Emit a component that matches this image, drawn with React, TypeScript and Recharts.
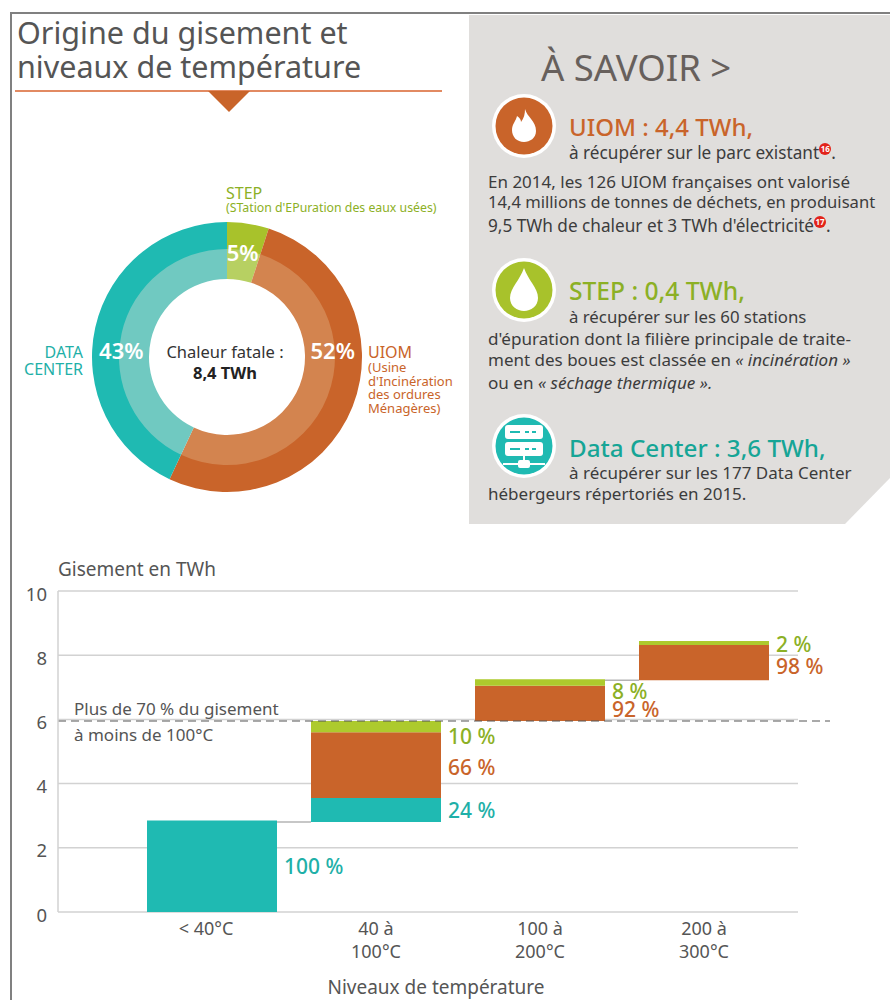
import React from "react";
import {
  Bar,
  BarChart,
  CartesianGrid,
  Cell,
  Label,
  LabelList,
  Pie,
  PieChart,
  ReferenceLine,
  XAxis,
  YAxis,
} from "recharts";

const TEAL = "#1fbab2";
const ORANGE = "#c9642a";
const GREEN = "#adca2d";
const TEAL_TEXT = "#1fb0a8";
const GREEN_TEXT = "#8cb025";
const GREY = "#555555";
const BODY = "#3c3c3c";
const FONT = "'Noto Sans', 'Open Sans', sans-serif";

// donut
const sourceNames = ["STEP", "UIOM", "DATA CENTER"];
const sourceShares = [5, 52, 43];
const sourceLabels = ["5%", "52%", "43%"];
const outerColors = ["#a8c22b", ORANGE, TEAL];
const innerColors = ["#b7d062", "#d3844f", "#70c9c1"];
const labelAngles = [8.5, 86, 274];

// stacked bars, in TWh
const temperatureLevels = ["< 40°C", "40 à\n100°C", "100 à\n200°C", "200 à\n300°C"];
const baseOffset = [0, 2.8, 5.95, 7.22];
const dataCenterTwh = [2.85, 0.75, 0, 0];
const uiomTwh = [0, 2.05, 1.1, 1.1];
const stepTwh = [0, 0.35, 0.2, 0.12];
const dataCenterPct = ["100 %", "24 %", "", ""];
const uiomPct = ["", "66 %", "92 %", "98 %"];
const stepPct = ["", "10 %", "8 %", "2 %"];
const uiomLabelNudge = [0, 2, 6, 3];
const stepLabelNudge = [0, 9, 9, 1];
const yTicks = [0, 2, 4, 6, 8, 10];
const connectedBars = [1, 3];

const barData = temperatureLevels.map((level, i) => ({
  level,
  base: baseOffset[i],
  dataCenter: dataCenterTwh[i],
  uiom: uiomTwh[i],
  step: stepTwh[i],
  dataCenterPct: dataCenterPct[i],
  uiomPct: uiomPct[i],
  stepPct: stepPct[i],
}));

const donutData = sourceNames.map((name, i) => ({ name, value: sourceShares[i] }));

function Txt({ x, y, size = 17, color = "#444", weight = 400, right, center, children }: any) {
  const lh = Math.round(size * 1.1);
  const style: React.CSSProperties = {
    position: "absolute",
    top: y - lh / 2,
    lineHeight: `${lh}px`,
    fontSize: size,
    color,
    fontWeight: weight,
    fontFamily: FONT,
    whiteSpace: "nowrap",
  };
  if (right !== undefined) style.right = 890 - right;
  else if (center !== undefined) {
    style.left = center;
    style.transform = "translateX(-50%)";
  } else style.left = x;
  return <div style={style}>{children}</div>;
}

function Note({ n }: { n: string }) {
  return (
    <span
      style={{
        display: "inline-block",
        width: 12,
        height: 12,
        borderRadius: 6,
        background: "#e2231a",
        color: "#fff",
        fontSize: 8,
        lineHeight: "12px",
        textAlign: "center",
        verticalAlign: 7,
        fontWeight: 700,
      }}
    >
      {n}
    </span>
  );
}

function Icon({ cy, fill, children }: any) {
  return (
    <svg width={70} height={70} viewBox="-35 -35 70 70" style={{ position: "absolute", left: 489, top: cy - 35 }}>
      <circle r={32} fill="#fff" />
      <circle r={28.5} fill={fill} />
      {children}
    </svg>
  );
}

function DonutLabel({ cx, cy, index }: any) {
  const a = (labelAngles[index] * Math.PI) / 180;
  return (
    <text
      x={cx + 106 * Math.sin(a)}
      y={cy - 106 * Math.cos(a)}
      fill="#fff"
      fontSize={22}
      fontWeight={600}
      fontFamily={FONT}
      textAnchor="middle"
      dominantBaseline="central"
    >
      {sourceLabels[index]}
    </text>
  );
}

function LevelTick({ x, y, payload }: any) {
  const lines = String(payload.value).split("\n");
  return (
    <text x={x} y={y} fill={GREY} fontSize={18} fontFamily={FONT} textAnchor="middle">
      {lines.map((line, i) => (
        <tspan key={line} x={lines.length === 1 ? x - 6 : x} y={y + 15 + i * 23}>
          {line}
        </tspan>
      ))}
    </text>
  );
}

// the invisible base segment draws the thin step line back to the previous bar
function BaseWithConnector({ x, y, index }: any) {
  if (!connectedBars.includes(index)) return null;
  return <line x1={x - 34} x2={x} y1={y} y2={y} stroke="#b4b4b4" strokeWidth={1.5} />;
}

// zero-height segments get no label entry, so the nudge is looked up by text
const pctLabel = (color: string, labels?: string[], nudge?: number[]) => (props: any) => {
  const { x, y, width, height, value } = props;
  if (!value) return null;
  const dy = labels && nudge ? nudge[labels.indexOf(value)] : 0;
  return (
    <text
      x={x + width + 7}
      y={y + height / 2 + dy}
      fill={color}
      fontSize={21}
      fontWeight={500}
      fontFamily={FONT}
      dominantBaseline="central"
    >
      {value}
    </text>
  );
};

export default function App() {
  return (
    <div style={{ position: "absolute", left: 0, top: 0, width: 890, height: 1000, background: "#fff", overflow: "hidden" }}>
      <div style={{ position: "absolute", left: 10, top: 12, width: 890, height: 1000, borderLeft: "2px solid #808080", borderTop: "2px solid #808080" }} />

      <Txt x={17} y={32} size={30.5} color={GREY}>Origine du gisement et</Txt>
      <Txt x={17} y={66} size={30.5} color={GREY}>niveaux de température</Txt>
      <div style={{ position: "absolute", left: 15, top: 90, width: 427, height: 2, background: "#e28a62" }} />
      <svg width={50} height={24} style={{ position: "absolute", left: 205, top: 91 }}>
        <polygon points="3,0 45,0 24,21" fill={ORANGE} />
      </svg>

      <div style={{ position: "absolute", left: 77, top: 207 }}>
        <PieChart width={300} height={300} margin={{ top: 0, right: 0, bottom: 0, left: 0 }}>
          <Pie data={donutData} dataKey="value" cx={150} cy={150} innerRadius={107} outerRadius={135} startAngle={90} endAngle={-270} stroke="none" isAnimationActive={false} label={false} labelLine={false}>
            {donutData.map((d, i) => <Cell key={d.name} fill={outerColors[i]} />)}
          </Pie>
          <Pie data={donutData} dataKey="value" cx={150} cy={150} innerRadius={78} outerRadius={108} startAngle={90} endAngle={-270} stroke="none" isAnimationActive={false} label={DonutLabel} labelLine={false}>
            {donutData.map((d, i) => <Cell key={d.name} fill={innerColors[i]} />)}
          </Pie>
        </PieChart>
      </div>

      <Txt x={226} y={193} size={16} color={GREEN_TEXT}>STEP</Txt>
      <Txt x={226} y={208} size={12.3} color={GREEN_TEXT}>(STation d'EPuration des eaux usées)</Txt>
      <Txt right={83} y={352} size={16} color={TEAL_TEXT}>DATA</Txt>
      <Txt right={83} y={369} size={16} color={TEAL_TEXT}>CENTER</Txt>
      <Txt x={368} y={352} size={16} color={ORANGE}>UIOM</Txt>
      <Txt x={368} y={367} size={13} color={ORANGE}>(Usine</Txt>
      <Txt x={368} y={381} size={13} color={ORANGE}>d'Incinération</Txt>
      <Txt x={368} y={394} size={13} color={ORANGE}>des ordures</Txt>
      <Txt x={368} y={408} size={13} color={ORANGE}>Ménagères)</Txt>
      <Txt center={225} y={352} size={16.5} color="#333">Chaleur fatale :</Txt>
      <Txt center={225} y={373} size={16.5} color="#222" weight={700}>8,4 TWh</Txt>

      <svg width={421} height={510} style={{ position: "absolute", left: 469, top: 15 }}>
        <polygon points="0,0 421,0 421,463 376,509 0,509" fill="#e0dedc" />
      </svg>
      <Txt x={541} y={67} size={36.5} color="#67605c">À SAVOIR &gt;</Txt>

      <Icon cy={126} fill={ORANGE}>
        <path d="M1 -17 C3 -9 12 -5 12 5 C12 12 6 16 0 16 C-7 16 -12 11 -12 4 C-12 -2 -8 -5 -7 -10 C-4 -8 -3 -6 -3 -4 C0 -8 1 -12 1 -17 Z" fill="#fff" />
      </Icon>
      <Txt x={569} y={127} size={24} color={ORANGE} weight={500}>UIOM : 4,4 TWh,</Txt>
      <Txt x={569} y={152} size={17.2} color={BODY}>à récupérer sur le parc existant<Note n="16" />.</Txt>
      <Txt x={488} y={181} size={17} color={BODY}>En 2014, les 126 UIOM françaises ont valorisé</Txt>
      <Txt x={488} y={202} size={16.6} color={BODY}>14,4 millions de tonnes de déchets, en produisant</Txt>
      <Txt x={488} y={225} size={17.2} color={BODY}>9,5 TWh de chaleur et 3 TWh d'électricité<Note n="17" />.</Txt>

      <Icon cy={290} fill="#a8c22b">
        <path d="M0 -22 C4 -10 14 -2 14 8 C14 16 7 21 0 21 C-7 21 -14 16 -14 8 C-14 -2 -4 -10 0 -22 Z" fill="#fff" />
      </Icon>
      <Txt x={569} y={290} size={24.6} color={GREEN_TEXT} weight={500}>STEP : 0,4 TWh,</Txt>
      <Txt x={569} y={317} size={16.8} color={BODY}>à récupérer sur les 60 stations</Txt>
      <Txt x={488} y={338} size={17.1} color={BODY}>d'épuration dont la filière principale de traite-</Txt>
      <Txt x={488} y={359} size={17} color={BODY}>ment des boues est classée en <i>« incinération »</i></Txt>
      <Txt x={488} y={382} size={17.1} color={BODY}>ou en <i>« séchage thermique ».</i></Txt>

      <Icon cy={446} fill={TEAL}>
        <rect x={-19} y={-21} width={38} height={14} rx={3} fill="#fff" />
        <rect x={-19} y={-4} width={38} height={14} rx={3} fill="#fff" />
        <rect x={-6} y={14} width={12} height={8} rx={2} fill="#fff" />
        <rect x={-21} y={17} width={42} height={2} fill="#fff" />
        <rect x={-1} y={10} width={2} height={5} fill="#fff" />
        <path d="M-14 -14 h10 M1 -14 h4 M8 -14 h4 M-14 3 h10 M1 3 h4 M8 3 h4" stroke={TEAL} strokeWidth={2} />
      </Icon>
      <Txt x={569} y={447} size={24.2} color="#16a596" weight={500}>Data Center : 3,6 TWh,</Txt>
      <Txt x={569} y={472} size={17} color={BODY}>à récupérer sur les 177 Data Center</Txt>
      <Txt x={488} y={493} size={17} color={BODY}>hébergeurs répertoriés en 2015.</Txt>

      <Txt x={58} y={569} size={19} color={GREY}>Gisement en TWh</Txt>

      <div style={{ position: "absolute", left: 0, top: 560 }}>
        <BarChart width={890} height={440} data={barData} margin={{ top: 31, right: 60, bottom: 0, left: 18 }} barSize={130}>
          <CartesianGrid horizontal vertical={false} width={740} stroke="#d2d2d2" strokeWidth={1.5} />
          <XAxis
            dataKey="level"
            height={88}
            axisLine={false}
            tickLine={false}
            interval={0}
            tick={LevelTick}
            padding={{ left: 72, right: 44 }}
          >
            <Label value="Niveaux de température" position="insideBottom" offset={0} dx={-8} dy={-6} fill={GREY} fontSize={19} fontFamily={FONT} />
          </XAxis>
          <YAxis
            width={40}
            domain={[0, 10]}
            ticks={yTicks}
            axisLine={{ stroke: "#d2d2d2", strokeWidth: 1.5 }}
            tickLine={false}
            tick={{ fill: GREY, fontSize: 18.5, fontFamily: FONT, dy: 3, dx: -3 }}
          />
          <Bar dataKey="base" stackId="t" fill="transparent" shape={BaseWithConnector} isAnimationActive={false} />
          <Bar dataKey="dataCenter" stackId="t" fill={TEAL} isAnimationActive={false}>
            <LabelList dataKey="dataCenterPct" content={pctLabel(TEAL_TEXT)} />
          </Bar>
          <Bar dataKey="uiom" stackId="t" fill={ORANGE} isAnimationActive={false}>
            <LabelList dataKey="uiomPct" content={pctLabel(ORANGE, uiomPct, uiomLabelNudge)} />
          </Bar>
          <Bar dataKey="step" stackId="t" fill={GREEN} isAnimationActive={false}>
            <LabelList dataKey="stepPct" content={pctLabel(GREEN_TEXT, stepPct, stepLabelNudge)} />
          </Bar>
          <ReferenceLine y={5.95} stroke="#555" strokeDasharray="8 5" strokeWidth={1}>
            <Label value="Plus de 70 % du gisement" position="insideBottomLeft" dx={11} dy={-1} fill={GREY} fontSize={17} fontFamily={FONT} />
            <Label value="à moins de 100°C" position="insideTopLeft" dx={11} dy={3} fill={GREY} fontSize={17} fontFamily={FONT} />
          </ReferenceLine>
        </BarChart>
      </div>
    </div>
  );
}
